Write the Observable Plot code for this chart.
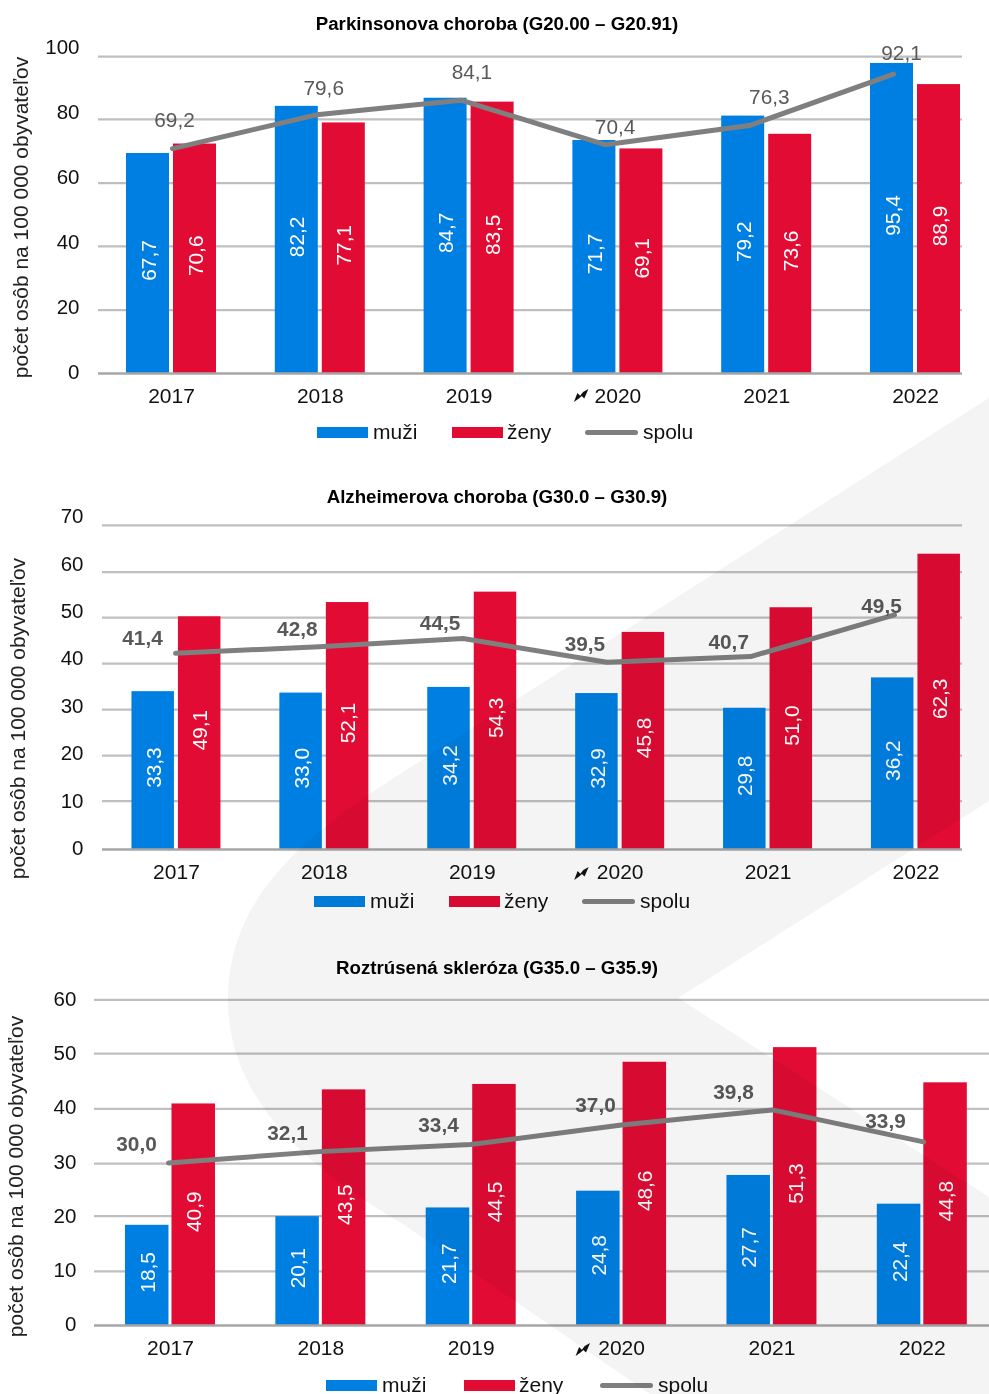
<!DOCTYPE html>
<html lang="sk">
<head>
<meta charset="utf-8">
<script src="https://cdn.jsdelivr.net/npm/d3@7"></script>
<script src="https://cdn.jsdelivr.net/npm/@observablehq/plot@0.6"></script>
<style>
  html, body { margin: 0; padding: 0; background: #fff; }
  #page { position: relative; width: 989px; height: 1394px; overflow: hidden; background: #fff; isolation: isolate;
          font-family: "Liberation Sans", Arial, sans-serif; }
  #page svg { position: absolute; left: 0; background: transparent; max-width: none !important; }
  .title { position: absolute; left: 0; width: 994px; text-align: center; font-weight: bold; font-size: 18.7px; line-height: 20px; color: #000; }
  .leg { position: absolute; font-size: 21px; line-height: 24px; color: #111; white-space: nowrap; }
  .sw { position: absolute; width: 51px; height: 11px; }
  .ln { position: absolute; width: 53px; height: 5px; border-radius: 3px; background: #7f7f7f; }
  #mark { position: absolute; inset: 0; background: #f4f4f4; mix-blend-mode: multiply; pointer-events: none;
          clip-path: path("M989,398 L400,774 C300,838 228,900 228,1000 C228,1100 310,1170 400,1222 L650,1394 L989,1394 L989,1197 L678,998 L989,801 Z"); }
</style>
</head>
<body>
<div id="page"></div>
<script>
const years = ["2017", "2018", "2019", "2020", "2021", "2022"];
const seriesNames = ["muži", "ženy", "spolu"];
const yAxisTitle = "počet osôb na 100 000 obyvateľov";
const colorMuzi = "#007fe3";
const colorZeny = "#e10b34";
const colorSpolu = "#7f7f7f";

const parkinsonTitle = "Parkinsonova choroba (G20.00 – G20.91)";
const parkinsonMuzi = [67.7, 82.2, 84.7, 71.7, 79.2, 95.4];
const parkinsonZeny = [70.6, 77.1, 83.5, 69.1, 73.6, 88.9];
const parkinsonSpolu = [69.2, 79.6, 84.1, 70.4, 76.3, 92.1];
const parkinsonTicks = [0, 20, 40, 60, 80, 100];
const parkinsonGrid = [19.5, 39.1, 58.6, 78.2, 97.5];

const alzheimerTitle = "Alzheimerova choroba (G30.0 – G30.9)";
const alzheimerMuzi = [33.3, 33.0, 34.2, 32.9, 29.8, 36.2];
const alzheimerZeny = [49.1, 52.1, 54.3, 45.8, 51.0, 62.3];
const alzheimerSpolu = [41.4, 42.8, 44.5, 39.5, 40.7, 49.5];
const alzheimerTicks = [0, 10, 20, 30, 40, 50, 60, 70];
const alzheimerGrid = [10.2, 19.8, 29.5, 39.2, 48.9, 58.5, 68.4];

const sclerosisTitle = "Roztrúsená skleróza (G35.0 – G35.9)";
const sclerosisMuzi = [18.5, 20.1, 21.7, 24.8, 27.7, 22.4];
const sclerosisZeny = [40.9, 43.5, 44.5, 48.6, 51.3, 44.8];
const sclerosisSpolu = [30.0, 32.1, 33.4, 37.0, 39.8, 33.9];
const sclerosisTicks = [0, 10, 20, 30, 40, 50, 60];
const sclerosisGrid = [10.0, 20.2, 29.9, 40.0, 50.2, 60.1];

const W = 1000;
const FONT = '"Liberation Sans", Arial, sans-serif';
const page = document.getElementById("page");
const comma = v => v.toFixed(1).replace(".", ",");

// the small bolt in front of 2020, as a symbol for Plot.dot
const boltSymbol = {
  draw(ctx, size) {
    const k = Math.sqrt(size / Math.PI) / 7;
    const pts = [[-7, 6.5], [-3.5, -2.5], [-0.8, 0.2], [2.2, -3.4], [7.5, -6.5], [3.4, 3], [0.8, 0.6], [-2, 3]];
    pts.forEach(([x, y], i) => i ? ctx.lineTo(x * k, y * k) : ctx.moveTo(x * k, y * k));
    ctx.closePath();
  }
};

function drawChart(c) {
  const rows = years.map((year, i) => ({year, muzi: c.muzi[i], zeny: c.zeny[i], spolu: c.spolu[i]}));
  const frame = {
    width: W, height: c.svgBottom - c.svgTop,
    marginTop: c.yTop - c.svgTop, marginBottom: c.svgBottom - c.y0,
    marginRight: W - c.bandEnd,
    style: {background: "transparent", fontFamily: FONT, fontSize: "20.5px"}
  };
  const step = (c.bandEnd - c.bandStart) / years.length;
  const p = 1 - (2 * c.barW + c.gap) / step;
  const inset = c.barW + c.gap;
  const shift = (c.barW + c.gap) / 2;
  const gridOpts = {insetLeft: c.gridStart - c.bandStart, insetRight: c.bandEnd - c.gridEnd};

  const bars = Plot.plot({
    ...frame,
    marginLeft: c.bandStart,
    x: {type: "band", domain: years, paddingInner: p, paddingOuter: p / 2, round: false, axis: null},
    y: {domain: [0, c.yMax], axis: null},
    marks: [
      Plot.ruleY(c.grid, {...gridOpts, stroke: "#bfbfbf", strokeWidth: 2.2}),
      Plot.barY(rows, {x: "year", y: "muzi", fill: colorMuzi, insetRight: inset}),
      Plot.barY(rows, {x: "year", y: "zeny", fill: colorZeny, insetLeft: inset}),
      Plot.ruleY([0], {...gridOpts, stroke: "#a6a6a6", strokeWidth: 2.6}),
      Plot.text(rows, {x: "year", y: d => d.muzi / 2, text: d => comma(d.muzi), rotate: -90, dx: -shift + 1, dy: -3, fill: "#fff", fontSize: 20.8}),
      Plot.text(rows, {x: "year", y: d => d.zeny / 2, text: d => comma(d.zeny), rotate: -90, dx: shift + 1, dy: -3, fill: "#fff", fontSize: 20.8}),
      Plot.axisX({anchor: "bottom", tickSize: 0, tickPadding: 15, label: null, fontSize: 21, fill: "#111"}),
      Plot.dot(["2020"], {x: d => d, frameAnchor: "bottom", symbol: boltSymbol, r: 7, fill: "#111", stroke: "none", dx: c.boltDx, dy: c.boltDy}),
      Plot.axisY(c.ticks, {anchor: "left", tickSize: 0, tickPadding: c.tickPad, label: null, fontSize: 20.5, fill: "#111", dy: c.tickDy}),
      Plot.text([yAxisTitle], {frameAnchor: "left", textAnchor: "middle", rotate: -90, dx: c.titleX - c.bandStart, dy: c.titleDy, fontSize: 21, fill: "#222"})
    ]
  });
  bars.style.top = c.svgTop + "px";
  page.appendChild(bars);

  const line = Plot.plot({
    ...frame,
    marginLeft: c.lineRange[0], marginRight: W - c.lineRange[1],
    x: {type: "point", domain: years, range: c.lineRange, padding: 0, round: false, axis: null},
    y: {domain: [0, c.yMax], axis: null},
    marks: [
      Plot.line(rows, {x: "year", y: "spolu", stroke: colorSpolu, strokeWidth: 5, strokeLinecap: "round", strokeLinejoin: "round"}),
      ...rows.map((r, i) => Plot.text([r], {
        x: "year", y: "spolu", text: d => comma(d.spolu),
        dx: c.labelNudge[i][0], dy: c.labelNudge[i][1],
        fill: "#595959", fontSize: 20.8, fontWeight: c.labelWeight
      }))
    ]
  });
  line.style.top = c.svgTop + "px";
  page.appendChild(line);

  const t = document.createElement("div");
  t.className = "title";
  t.style.top = (c.titleY - 10) + "px";
  t.textContent = c.title;
  page.appendChild(t);

  const add = (cls, css, text) => {
    const e = document.createElement("div");
    e.className = cls;
    Object.assign(e.style, css);
    if (text) e.textContent = text;
    page.appendChild(e);
  };
  const [lm, lz, ls] = c.legendX;
  add("sw", {left: lm + "px", top: (c.legendY - 5.5) + "px", background: colorMuzi});
  add("leg", {left: (lm + 56) + "px", top: (c.legendY - 13) + "px"}, seriesNames[0]);
  add("sw", {left: lz + "px", top: (c.legendY - 5.5) + "px", background: colorZeny});
  add("leg", {left: (lz + 55) + "px", top: (c.legendY - 13) + "px"}, seriesNames[1]);
  add("ln", {left: ls + "px", top: (c.legendY - 2.5) + "px"});
  add("leg", {left: (ls + 58) + "px", top: (c.legendY - 13) + "px"}, seriesNames[2]);
}

drawChart({
  title: parkinsonTitle, titleY: 24, muzi: parkinsonMuzi, zeny: parkinsonZeny, spolu: parkinsonSpolu,
  ticks: parkinsonTicks, grid: parkinsonGrid, yMax: 100,
  svgTop: 30, svgBottom: 420, yTop: 48, y0: 373,
  bandStart: 96.6, bandEnd: 989.4, gridStart: 98, gridEnd: 962, barW: 43, gap: 4, tickPad: 17.6, tickDy: -1.5,
  lineRange: [172, 893], labelWeight: "normal",
  labelNudge: [[2, -28], [7, -26], [11, -28], [10, -17], [20, -28], [8, -21]],
  titleX: 21, titleDy: 6.5, boltDx: -37, boltDy: 22, legendX: [317, 452, 585], legendY: 432.5
});
drawChart({
  title: alzheimerTitle, titleY: 497, muzi: alzheimerMuzi, zeny: alzheimerZeny, spolu: alzheimerSpolu,
  ticks: alzheimerTicks, grid: alzheimerGrid, yMax: 70,
  svgTop: 500, svgBottom: 895, yTop: 517.2, y0: 849,
  bandStart: 102, bandEnd: 989.4, gridStart: 102, gridEnd: 962, barW: 42.5, gap: 4, tickPad: 19, tickDy: -1,
  lineRange: [175, 894], labelWeight: "bold",
  labelNudge: [[-33, -15], [-22, -17], [-23, -15], [-22, -18], [-22, -14], [-13, -9]],
  titleX: 18, titleDy: 35, boltDx: -39, boltDy: 24, legendX: [314, 449, 582], legendY: 901.5
});
drawChart({
  title: sclerosisTitle, titleY: 968, muzi: sclerosisMuzi, zeny: sclerosisZeny, spolu: sclerosisSpolu,
  ticks: sclerosisTicks, grid: sclerosisGrid, yMax: 60,
  svgTop: 985, svgBottom: 1370, yTop: 1000, y0: 1325,
  bandStart: 94.8, bandEnd: 997, gridStart: 94, gridEnd: 989, barW: 43.5, gap: 3, tickPad: 19, tickDy: -1,
  lineRange: [168, 923], labelWeight: "bold",
  labelNudge: [[-32, -19], [-32, -18], [-32, -19], [-26, -20], [-39, -18], [-38, -21]],
  titleX: 16, titleDy: 13.5, boltDx: -39, boltDy: 24, legendX: [326, 464, 600], legendY: 1385.5
});

const mark = document.createElement("div");
mark.id = "mark";
page.appendChild(mark);
</script>
</body>
</html>
